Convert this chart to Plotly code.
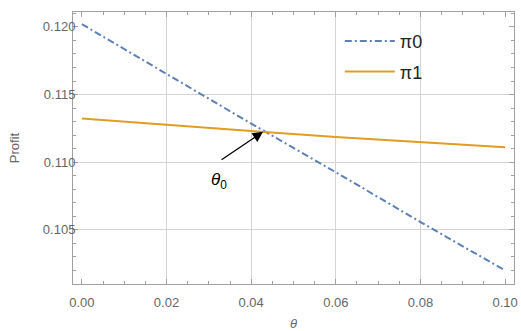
import plotly.graph_objects as go

theta = [0.00, 0.02, 0.04, 0.06, 0.08, 0.10]
pi0 = [0.1202, 0.1165, 0.11285, 0.10926, 0.10558, 0.1020]
pi1 = [0.11323, 0.11275, 0.11230, 0.11187, 0.11147, 0.11110]
series_names = ["π0", "π1"]
x_ticks = [0.00, 0.02, 0.04, 0.06, 0.08, 0.10]
x_tick_text = ["0.00", "0.02", "0.04", "0.06", "0.08", "0.10"]
y_ticks = [0.105, 0.110, 0.115, 0.120]
y_tick_text = ["0.105", "0.110", "0.115", "0.120"]
x_grid = [0.02, 0.04, 0.06, 0.08]
y_grid = [0.105, 0.110, 0.115]
theta0 = 0.0428
profit0 = 0.11225
label_x = 0.0325
label_y = 0.1086

BLUE = "#5E81B5"
ORANGE = "#E19C24"
GRAY = "#666666"
FONT = "Liberation Sans"

fig = go.Figure()
# invisible trace to activate grid axes
fig.add_trace(go.Scatter(x=[theta[0]], y=[pi0[0]], xaxis="x2", yaxis="y2", mode="markers",
                         marker=dict(opacity=0), showlegend=False, hoverinfo="skip"))
fig.add_trace(go.Scatter(x=theta, y=pi0, mode="lines", name=series_names[0], legendgroup="a",
                         line=dict(color=BLUE, width=2, dash="7px,3px,2px,3px")))
fig.add_trace(go.Scatter(x=theta, y=pi1, mode="lines", name=series_names[1], legendgroup="b",
                         line=dict(color=ORANGE, width=2)))

xr = [-0.0021, 0.1021]
yr = [0.1010, 0.1211]

fig.update_layout(
    width=521, height=331,
    margin=dict(l=73, r=7, t=12, b=47),
    paper_bgcolor="white", plot_bgcolor="white",
    font=dict(family=FONT, color=GRAY, size=13),
    showlegend=True,
    legend=dict(x=0.605, y=0.96, xanchor="left", yanchor="top",
                bgcolor="rgba(0,0,0,0)", font=dict(size=18, color="#222"),
                tracegroupgap=4, itemwidth=50),
    xaxis=dict(range=xr, tickvals=x_ticks, ticktext=x_tick_text, showgrid=False,
               zeroline=False, showline=True, linecolor="#a0a0a0", linewidth=1, mirror="ticks",
               ticks="inside", ticklen=5, tickcolor="#a0a0a0", automargin=False,
               ticklabelstandoff=6,
               minor=dict(dtick=0.005, tick0=0, ticks="inside", ticklen=3, tickcolor="#a0a0a0"),
               tickfont=dict(size=13, color=GRAY),
               title=dict(text="<i>θ</i>", font=dict(size=13, color=GRAY), standoff=14)),
    yaxis=dict(range=yr, tickvals=y_ticks, ticktext=y_tick_text, showgrid=False,
               zeroline=False, showline=True, linecolor="#a0a0a0", linewidth=1, mirror="ticks",
               ticks="inside", ticklen=5, tickcolor="#a0a0a0", automargin=False,
               ticklabelstandoff=-6,
               minor=dict(dtick=0.001, tick0=0.1, ticks="inside", ticklen=3, tickcolor="#a0a0a0"),
               tickfont=dict(size=13, color=GRAY),
               title=dict(text="Profit", font=dict(size=13, color=GRAY), standoff=20)),
    xaxis2=dict(overlaying="x", range=xr, tickvals=x_grid, showgrid=True, gridcolor="#d4d4d4",
                gridwidth=1, showticklabels=False, ticks="", zeroline=False, automargin=False),
    yaxis2=dict(overlaying="y", range=yr, tickvals=y_grid, showgrid=True, gridcolor="#d4d4d4",
                gridwidth=1, showticklabels=False, ticks="", zeroline=False, automargin=False),
)

fig.add_annotation(x=theta0, y=profit0, ax=-43, ay=29, text="", showarrow=True,
                   arrowhead=2, arrowsize=1.6, arrowwidth=1.3, arrowcolor="black",
                   xref="x", yref="y")
fig.add_annotation(x=label_x, y=label_y, text="<i>θ</i><sub>0</sub>", showarrow=False,
                   font=dict(size=17, color="black", family=FONT), xref="x", yref="y")

fig.write_html("out.html", config={"displayModeBar": False},
               post_script="document.body.style.margin='0';")
